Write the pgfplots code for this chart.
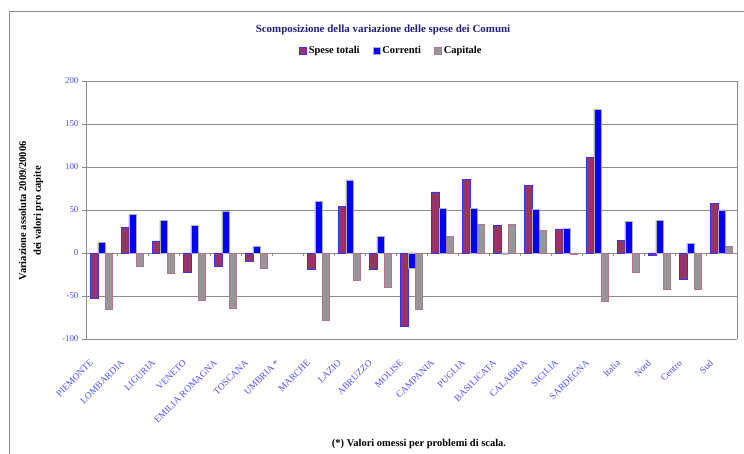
\documentclass[border=0pt]{standalone}
\usepackage{pgfplots}
\pgfplotsset{compat=1.18}
\usepackage{fontspec}
\setmainfont{Liberation Serif}
\definecolor{totali}{HTML}{993366}
\definecolor{correnti}{HTML}{0000FF}
\definecolor{capitale}{HTML}{969696}
\definecolor{tickblue}{HTML}{4D4DFF}
\definecolor{navy}{HTML}{1F1F80}
\definecolor{gridgray}{HTML}{8C8C8C}

\begin{document}
\begin{tikzpicture}
  \useasboundingbox (0bp,0bp) rectangle (744bp,454bp);
  % outer chart frame (left and top edges)
  \draw[gridgray, line width=1bp] (9bp,0bp) -- (9bp,442bp) -- (744bp,442bp);

  \node[font=\fontsize{11}{12}\selectfont\bfseries, text=navy] at (383bp,424bp)
    {Scomposizione della variazione delle spese dei Comuni};

  \node[font=\fontsize{10.5}{15}\selectfont\bfseries, rotate=90, align=center] at (31bp,243bp)
    {Variazione assoluta 2009/20006\\dei valori pro capite};

  \node[font=\fontsize{10.5}{12}\selectfont\bfseries] at (419bp,10bp)
    {(*) Valori omessi per problemi di scala.};

  \begin{axis}[
    at={(86bp,115bp)}, anchor=south west,
    width=651bp, height=258bp, scale only axis,
    ybar=0pt, bar width=7.3bp,
    xmin=0.5, xmax=21.5,
    ymin=-100, ymax=200,
    ytick={-100,-50,0,50,100,150,200},
    xtick={1,...,21},
    xticklabels={PIEMONTE, LOMBARDIA, LIGURIA, VENETO, EMILIA ROMAGNA,
      TOSCANA, UMBRIA *, MARCHE, LAZIO, ABRUZZO, MOLISE, CAMPANIA, PUGLIA,
      BASILICATA, CALABRIA, SICILIA, SARDEGNA, Italia, Nord, Centro, Sud},
    xticklabel style={rotate=45, anchor=east, text=tickblue,
      font=\fontsize{9.5}{10}\selectfont, inner sep=1bp,
      xshift=-19bp, yshift=-6bp},
    yticklabel style={text=tickblue, font=\fontsize{9}{10}\selectfont},
    /pgf/number format/assume math mode=true,
    x tick style={draw=none},
    major tick length=4bp,
    ytick pos=left, tick align=outside,
    y tick style={gridgray, line width=0.8bp},
    separate axis lines,
    x axis line style={draw=none},
    y axis line style={gridgray, line width=1bp},
    axis line style={-},
    ymajorgrids,
    grid style={gridgray, line width=0.8bp},
    area legend,
    legend columns=3,
    legend style={at={(0.469,1.116)}, anchor=center, draw=none,
      font=\fontsize{10.5}{11}\selectfont\bfseries,
      /tikz/every even column/.append style={column sep=11bp}},
    legend image code/.code={\draw[#1] (0bp,-3.5bp) rectangle (7bp,3.5bp);},
  ]
    \addplot[fill=totali, draw=blue!80, line width=0.7bp] coordinates {
      (1,-53) (2,30) (3,14) (4,-22) (5,-15) (6,-10) (8,-19) (9,54)
      (10,-19) (11,-85) (12,71) (13,86) (14,32) (15,79) (16,28) (17,111)
      (18,15) (19,-3) (20,-31) (21,58)};
    \addplot[fill=correnti, draw=gray!60, line width=0.7bp] coordinates {
      (1,12) (2,45) (3,38) (4,32) (5,49) (6,8) (8,60) (9,85)
      (10,19) (11,-18) (12,52) (13,52) (14,-1.5) (15,51) (16,29) (17,167)
      (18,37) (19,38) (20,11) (21,50)};
    \addplot[fill=capitale, draw=totali!70, line width=0.7bp] coordinates {
      (1,-66) (2,-16) (3,-24) (4,-55) (5,-64) (6,-18) (8,-78) (9,-32)
      (10,-40) (11,-66) (12,19) (13,33) (14,33) (15,26) (16,-2) (17,-56)
      (18,-22) (19,-42) (20,-42) (21,8)};
    \legend{Spese totali, Correnti, Capitale}
    % category separator ticks on the zero line
    \pgfplotsinvokeforeach{1.5,2.5,...,20.5}{
      \draw[gridgray, line width=0.8bp] (axis cs:#1,0) -- (axis cs:#1,-4);
    }
  \end{axis}
\end{tikzpicture}
\end{document}
